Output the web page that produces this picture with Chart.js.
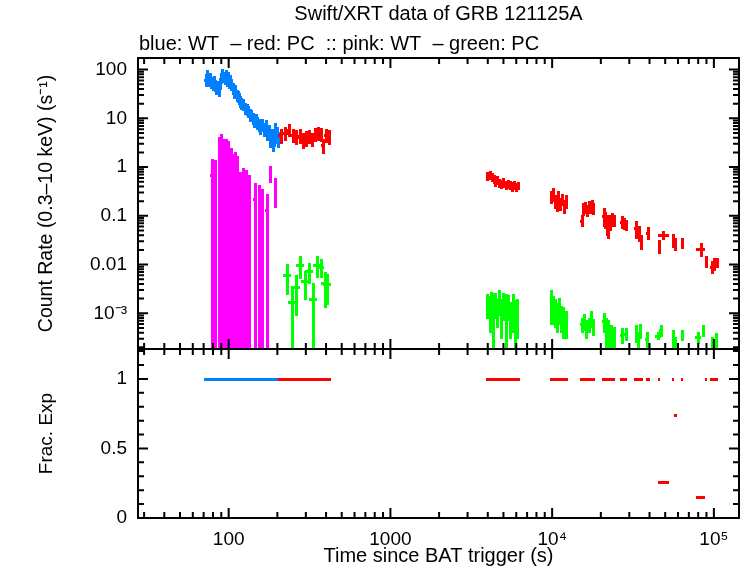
<!DOCTYPE html>
<html>
<head>
<meta charset="utf-8">
<script src="https://cdn.jsdelivr.net/npm/chart.js@4.4.0/dist/chart.umd.min.js"></script>
<style>
  html, body { margin: 0; padding: 0; background: #fff; }
</style>
</head>
<body>
<canvas id="lc" width="746" height="568"></canvas>
<script>
// Titles
const chartTitle = 'Swift/XRT data of GRB 121125A';
const chartSubtitle = 'blue: WT  \u2013 red: PC  :: pink: WT  \u2013 green: PC';

// Axis ticks
const timeTicks = [100, 1000, 1e4, 1e5];
const timeTickLabels = ['100', '1000', '10\u2074', '10\u2075'];
const rateTicks = [1e-3, 0.01, 0.1, 1, 10, 100];
const rateTickLabels = ['10\u207B\u00B3', '0.01', '0.1', '1', '10', '100'];
const fracTicks = [0, 0.5, 1];
const fracTickLabels = ['0', '0.5', '1'];

// Blue: WT (time s, half bin width s, rate, rate error, fractional exposure)
const blueT = [72, 73.5, 75, 76.5, 78, 79.5, 81, 82.5, 84, 85.5, 87, 88.5, 90, 91.5, 93, 94.5, 96, 97.5, 99, 100.5, 102,
  104, 106, 108, 110, 112, 114, 116, 118, 120,
  123, 126, 129, 132, 135, 138, 141, 144, 147, 150, 153,
  157, 161, 165, 169, 173, 177,
  181, 184, 187, 190, 193, 196, 199, 202];
const blueDT = [0.75, 0.75, 0.75, 0.75, 0.75, 0.75, 0.75, 0.75, 0.75, 0.75, 0.75, 0.75, 0.75, 0.75, 0.75, 0.75, 0.75, 0.75, 0.75, 0.75, 0.75,
  1, 1, 1, 1, 1, 1, 1, 1, 1,
  1.5, 1.5, 1.5, 1.5, 1.5, 1.5, 1.5, 1.5, 1.5, 1.5, 1.5,
  2, 2, 2, 2, 2, 2,
  1.5, 1.5, 1.5, 1.5, 1.5, 1.5, 1.5, 1.5];
const blueRate = [62, 75, 58, 68, 55, 50, 58, 48, 42, 45, 38, 52, 68, 80, 72, 65, 78, 60, 70, 55, 62,
  50, 42, 36, 38, 30, 28, 26, 22, 20,
  19, 16, 15, 14, 12, 11.5, 10, 9, 9.5, 8, 7.5,
  6.5, 7.5, 6, 7, 5, 5.5,
  3.8, 4.5, 3.2, 4, 6, 4.5, 5, 3.8];
const blueErr = [16, 19, 14, 17, 14, 13, 14, 13, 11, 11, 10, 13, 16, 19, 17, 16, 19, 14, 17, 14, 14,
  13, 11, 10, 10, 8, 7, 6.5, 5.5, 5,
  4.8, 4.2, 3.8, 3.5, 3.2, 3, 2.7, 2.4, 2.5, 2.2, 2.1,
  1.9, 2.1, 1.8, 1.9, 1.5, 1.6,
  1.3, 1.4, 1.1, 1.3, 1.7, 1.4, 1.5, 1.3];
const blueFrac = [1, 1, 1, 1, 1, 1, 1, 1, 1, 1, 1, 1, 1, 1, 1, 1, 1, 1, 1, 1, 1,
  1, 1, 1, 1, 1, 1, 1, 1, 1,
  1, 1, 1, 1, 1, 1, 1, 1, 1, 1, 1,
  1, 1, 1, 1, 1, 1,
  1, 1, 1, 1, 1, 1, 1, 1];

// Red: PC
const redT = [210, 223, 236, 249, 262, 275, 288, 301, 314, 328, 342, 356, 370, 385, 400, 418,
  3980, 4100, 4220, 4340, 4460, 4590, 4720, 4860, 5000, 5150, 5300, 5450, 5610, 5780, 5950, 6150,
  9900, 10150, 10400, 10650, 10900, 11200, 11500, 11850, 12200,
  15200, 15600, 16000, 16400, 16800, 17200, 17600, 18000,
  20800, 21300, 21800, 22300, 22800, 23400, 24000,
  26900, 27700, 28500,
  33000, 34300, 35500, 39000,
  45500, 48800,
  56000, 57800,
  63500,
  83200, 89000,
  97000, 100500, 104500];
const redDT = [6.5, 6.5, 6.5, 6.5, 6.5, 6.5, 6.5, 6.5, 6.5, 7, 7, 7, 7, 7.5, 7.5, 10,
  60, 60, 60, 60, 60, 65, 65, 70, 70, 75, 75, 75, 80, 85, 85, 100,
  120, 120, 120, 120, 130, 140, 150, 170, 170,
  200, 200, 200, 200, 200, 200, 200, 200,
  250, 250, 250, 250, 250, 250, 250,
  400, 400, 400,
  500, 500, 500, 800,
  300, 3300,
  400, 600,
  600,
  4600, 500,
  1200, 1200, 1500];
const redRate = [4.5, 5.0, 5.8, 4.6, 4.2, 4.4, 3.6, 4.0, 4.3, 3.8, 4.8, 5.0, 4.7, 2.8, 4.6, 4.2,
  0.65, 0.68, 0.62, 0.57, 0.5, 0.53, 0.47, 0.45, 0.48, 0.43, 0.45, 0.42, 0.4, 0.43, 0.39, 0.41,
  0.25, 0.28, 0.2, 0.17, 0.24, 0.18, 0.22, 0.16, 0.2,
  0.08, 0.14, 0.15, 0.13, 0.16, 0.15, 0.17, 0.14,
  0.1, 0.085, 0.07, 0.06, 0.075, 0.085, 0.08,
  0.075, 0.07, 0.065,
  0.055, 0.045, 0.03, 0.045,
  0.024, 0.04,
  0.032, 0.027,
  0.028,
  0.0205, 0.0115,
  0.009, 0.0105, 0.011];
const redErr = [1.4, 1.5, 1.6, 1.4, 1.3, 1.4, 1.2, 1.3, 1.3, 1.2, 1.4, 1.5, 1.4, 0.9, 1.4, 1.3,
  0.13, 0.13, 0.12, 0.11, 0.1, 0.1, 0.09, 0.09, 0.09, 0.08, 0.08, 0.08, 0.08, 0.08, 0.07, 0.07,
  0.07, 0.08, 0.06, 0.05, 0.07, 0.05, 0.06, 0.05, 0.06,
  0.02, 0.04, 0.04, 0.035, 0.04, 0.04, 0.04, 0.035,
  0.04, 0.03, 0.03, 0.025, 0.025, 0.025, 0.02,
  0.02, 0.018, 0.015,
  0.02, 0.015, 0.01, 0.012,
  0.007, 0.008,
  0.01, 0.008,
  0.007,
  0.006, 0.003,
  0.0025, 0.003, 0.0025];
const redFrac = [1, 1, 1, 1, 1, 1, 1, 1, 1, 1, 1, 1, 1, 1, 1, 1,
  1, 1, 1, 1, 1, 1, 1, 1, 1, 1, 1, 1, 1, 1, 1, 1,
  1, 1, 1, 1, 1, 1, 1, 1, 1,
  1, 1, 1, 1, 1, 1, 1, 1,
  1, 1, 1, 1, 1, 1, 1,
  1, 1, 1,
  1, 1, 1, 1,
  1, 0.26,
  1, 0.74,
  1,
  0.15, 1,
  1, 1, 1];

// Pink: WT
const pinkT = [79.1, 82.5, 87.3, 89.9, 93.1, 96.5, 99.3, 102.9, 105.9, 109, 112, 117.8, 123, 128, 133.8, 145.9, 154.5, 161, 171.8, 180.7, 194];
const pinkDT = [1.5, 1.5, 1.3, 1.3, 1.5, 1.5, 1.5, 1.5, 1.5, 1.5, 1.5, 2, 2, 2, 2, 2.5, 2.5, 2.5, 2.5, 2.5, 3];
const pinkRate = [0.7, 0.68, 2.0, 2.3, 1.8, 1.8, 1.6, 1.2, 0.9, 1.0, 0.8, 0.38, 0.45, 0.4, 0.34, 0.22, 0.2, 0.16, 0.13, 0.77, 0.37];
const pinkErr = [0.7, 0.7, 2.1, 2.3, 1.8, 1.8, 1.7, 1.2, 0.9, 1.0, 0.85, 0.4, 0.5, 0.45, 0.34, 0.24, 0.22, 0.18, 0.14, 0.28, 0.22];

// Green: PC
const greenT = [229, 246, 261, 277, 297, 315, 333, 352, 370, 395, 407,
  3980, 4100, 4200, 4330, 4450, 4580, 4700, 4850, 5000, 5150, 5300, 5500, 5700, 5900, 6100,
  9900, 10100, 10400, 10700, 11000, 11300, 11700, 12100,
  15200, 15700, 16300, 16900, 17500, 18000,
  20800, 21500, 22300, 23200, 24200,
  27000, 28500,
  33000, 34000, 35000,
  38500,
  45000, 47000,
  56000, 57500,
  63500,
  80000, 86000,
  98000, 103000];
const greenDT = [11, 12, 13, 14, 15, 16, 17, 18, 18, 20, 20,
  60, 60, 60, 60, 60, 65, 65, 70, 70, 75, 75, 80, 85, 85, 90,
  100, 100, 150, 150, 150, 150, 200, 200,
  200, 200, 250, 250, 250, 250,
  250, 300, 300, 300, 300,
  400, 400,
  400, 400, 400,
  600,
  1500, 600,
  500, 500,
  700,
  2500, 800,
  1200, 1500];
const greenRate = [0.0061, 0.0017, 0.0035, 0.0098, 0.0046, 0.0074, 0.0020, 0.0098, 0.0090, 0.0041, 0.0039,
  0.0016, 0.0013, 0.0018, 0.0014, 0.0017, 0.0012, 0.0019, 0.0011, 0.0016, 0.0013, 0.0015, 0.0010, 0.0014, 0.0009, 0.0011,
  0.0018, 0.0014, 0.0012, 0.0010, 0.0013, 0.0009, 0.0008, 0.0007,
  0.0006, 0.0007, 0.0005, 0.0006, 0.0008, 0.00055,
  0.0007, 0.0005, 0.0004, 0.00035, 0.0003,
  0.00036, 0.00038,
  0.0004, 0.00025, 0.00045,
  0.0003,
  0.00035, 0.00045,
  0.00032, 0.00022,
  0.00036,
  0.00032, 0.00045,
  0.00022, 0.00028];
const greenErr = [0.0037, 0.0018, 0.0026, 0.0047, 0.0027, 0.0033, 0.0021, 0.0045, 0.0035, 0.0028, 0.0024,
  0.0008, 0.0009, 0.0009, 0.0012, 0.0009, 0.0007, 0.001, 0.0008, 0.0009, 0.0011, 0.0008, 0.0007, 0.001, 0.0009, 0.0008,
  0.0012, 0.0008, 0.0007, 0.0006, 0.0007, 0.0005, 0.0005, 0.0004,
  0.0002, 0.00025, 0.0002, 0.0002, 0.0003, 0.0002,
  0.0003, 0.0003, 0.0003, 0.0002, 0.0002,
  0.00012, 0.0001,
  0.00015, 0.00015, 0.00015,
  0.0001,
  0.00006, 0.00012,
  0.00012, 0.0001,
  0.00008,
  0.00008, 0.00012,
  0.0001, 0.0001];

const BLUE = '#0080ff', RED = '#ff0000', PINK = '#ff00ff', GREEN = '#00ff00';
const FONT = 'Liberation Sans, Arial, sans-serif';

function series(label, color, axis, t, dt, v, dv, width) {
  return {
    label: label,
    data: t.map((x, i) => ({ x: x, y: v[i] })),
    xErr: dt,
    yErr: dv,
    barWidth: width,
    borderColor: color,
    backgroundColor: color,
    yAxisID: axis,
    pointRadius: 0,
    showLine: false
  };
}

// draw crosses (time bin + rate error) using the chart's scales
const errorBars = {
  id: 'errorBars',
  afterDatasetsDraw(chart) {
    const ctx = chart.ctx;
    const xs = chart.scales.x;
    const area = chart.chartArea;
    chart.data.datasets.forEach(ds => {
      const ys = chart.scales[ds.yAxisID];
      ctx.save();
      ctx.beginPath();
      ctx.rect(area.left, ys.top, area.right - area.left, ys.bottom - ys.top);
      ctx.clip();
      ctx.strokeStyle = ds.borderColor;
      ctx.lineWidth = ds.barWidth;
      ctx.lineCap = 'butt';
      ds.data.forEach((p, i) => {
        const py = Math.round(ys.getPixelForValue(p.y)) + 0.5;
        const px = Math.round(xs.getPixelForValue(p.x)) + 0.5;
        const x0 = Math.floor(xs.getPixelForValue(p.x - ds.xErr[i]));
        const x1 = Math.ceil(xs.getPixelForValue(p.x + ds.xErr[i]));
        ctx.beginPath();
        ctx.moveTo(x0, py);
        ctx.lineTo(x1, py);
        ctx.stroke();
        if (ds.yErr) {
          const lo = p.y - ds.yErr[i];
          const yLo = lo > 0 ? Math.ceil(ys.getPixelForValue(lo)) : ys.bottom + 5;
          const yHi = Math.floor(ys.getPixelForValue(p.y + ds.yErr[i]));
          ctx.beginPath();
          ctx.moveTo(px, yLo);
          ctx.lineTo(px, yHi);
          ctx.stroke();
        }
      });
      ctx.restore();
    });
  }
};

// frame, inward ticks on all sides, and the titles
const frame = {
  id: 'frame',
  afterDraw(chart) {
    const ctx = chart.ctx;
    const a = chart.chartArea;
    const xs = chart.scales.x, yr = chart.scales.rate, yf = chart.scales.frac;
    const split = yr.bottom;
    ctx.save();
    ctx.strokeStyle = '#000';
    ctx.lineWidth = 2;
    ctx.strokeRect(a.left, a.top, a.right - a.left, a.bottom - a.top);
    ctx.beginPath(); ctx.moveTo(a.left, split); ctx.lineTo(a.right, split); ctx.stroke();

    const xTick = (v, len) => {
      const px = xs.getPixelForValue(v);
      if (px < a.left + 1 || px > a.right - 1) return;
      ctx.beginPath();
      ctx.moveTo(px, a.top); ctx.lineTo(px, a.top + len);
      ctx.moveTo(px, split - len); ctx.lineTo(px, split + len);
      ctx.moveTo(px, a.bottom); ctx.lineTo(px, a.bottom - len);
      ctx.stroke();
    };
    const yTick = (s, v, len) => {
      const py = s.getPixelForValue(v);
      if (py < s.top - 0.5 || py > s.bottom + 0.5) return;
      ctx.beginPath();
      ctx.moveTo(a.left, py); ctx.lineTo(a.left + len, py);
      ctx.moveTo(a.right, py); ctx.lineTo(a.right - len, py);
      ctx.stroke();
    };
    for (let e = 1; e <= 5; e++) {
      for (let m = 1; m <= 9; m++) {
        const v = m * Math.pow(10, e);
        xTick(v, m === 1 ? 10 : 6);
      }
    }
    for (let e = -4; e <= 2; e++) {
      for (let m = 1; m <= 9; m++) {
        const v = m * Math.pow(10, e);
        yTick(yr, v, m === 1 ? 10 : 6);
      }
    }
    for (let k = 0; k <= 12; k++) {
      yTick(yf, k / 10, k % 5 === 0 ? 10 : 6);
    }

    ctx.fillStyle = '#000';
    ctx.font = '20px ' + FONT;
    ctx.textBaseline = 'middle';
    ctx.textAlign = 'center';
    ctx.fillText(chartTitle, (a.left + a.right) / 2, 14);
    ctx.textAlign = 'left';
    ctx.fillText(chartSubtitle, a.left + 1, 44);
    ctx.restore();
  }
};

function fixTicks(values, labels) {
  return {
    afterBuildTicks(s) { s.ticks = values.map(v => ({ value: v })); },
    callback(v) {
      const i = values.findIndex(t => Math.abs(t - v) <= Math.abs(t) * 1e-9);
      return i >= 0 ? labels[i] : '';
    }
  };
}
const xT = fixTicks(timeTicks, timeTickLabels);
const rT = fixTicks(rateTicks, rateTickLabels);
const fT = fixTicks(fracTicks, fracTickLabels);

Chart.defaults.font.family = FONT;
Chart.defaults.color = '#000';

new Chart(document.getElementById('lc').getContext('2d'), {
  type: 'scatter',
  data: {
    datasets: [
      series('blue WT', BLUE, 'rate', blueT, blueDT, blueRate, blueErr, 3),
      series('red PC', RED, 'rate', redT, redDT, redRate, redErr, 3),
      series('pink WT', PINK, 'rate', pinkT, pinkDT, pinkRate, pinkErr, 3),
      series('green PC', GREEN, 'rate', greenT, greenDT, greenRate, greenErr, 3),
      series('blue frac', BLUE, 'frac', blueT, blueDT, blueFrac, null, 3),
      series('red frac', RED, 'frac', redT, redDT, redFrac, null, 3)
    ]
  },
  options: {
    responsive: false,
    animation: false,
    devicePixelRatio: 1,
    layout: { padding: { left: 0, right: 7, top: 58, bottom: 0 } },
    plugins: { legend: { display: false }, tooltip: { enabled: false } },
    scales: {
      x: {
        type: 'logarithmic',
        position: 'bottom',
        min: 27.5,
        max: 143000,
        afterFit(s) { s.height = 50; },
        afterBuildTicks: xT.afterBuildTicks,
        grid: { display: false, drawTicks: false },
        border: { display: false },
        ticks: { autoSkip: false, maxRotation: 0, padding: 10, font: { size: 19 }, callback: xT.callback },
        title: { display: true, text: 'Time since BAT trigger (s)', font: { size: 20 }, padding: { top: 0, bottom: 0 } }
      },
      // stacked panels: the axis listed later is placed higher
      frac: {
        type: 'linear',
        position: 'left',
        stack: 'panels',
        stackWeight: 169,
        min: 0,
        max: 1.215,
        afterFit(s) { s.width = 138; },
        afterBuildTicks: fT.afterBuildTicks,
        grid: { display: false, drawTicks: false },
        border: { display: false },
        ticks: { autoSkip: false, padding: 11, font: { size: 19 }, callback: fT.callback },
        title: { display: true, text: 'Frac. Exp', font: { size: 19 }, padding: { top: 35, bottom: 0 } }
      },
      rate: {
        type: 'logarithmic',
        position: 'left',
        stack: 'panels',
        stackWeight: 291,
        min: 1.85e-4,
        max: 173,
        afterFit(s) { s.width = 138; },
        afterBuildTicks: rT.afterBuildTicks,
        grid: { display: false, drawTicks: false },
        border: { display: false },
        ticks: { autoSkip: false, padding: 11, font: { size: 19 }, callback: rT.callback },
        title: { display: true, text: 'Count Rate (0.3\u201310 keV) (s\u207B\u00B9)', font: { size: 19.5 }, padding: { top: 35, bottom: 0 } }
      }
    }
  },
  plugins: [errorBars, frame]
});
</script>
</body>
</html>
